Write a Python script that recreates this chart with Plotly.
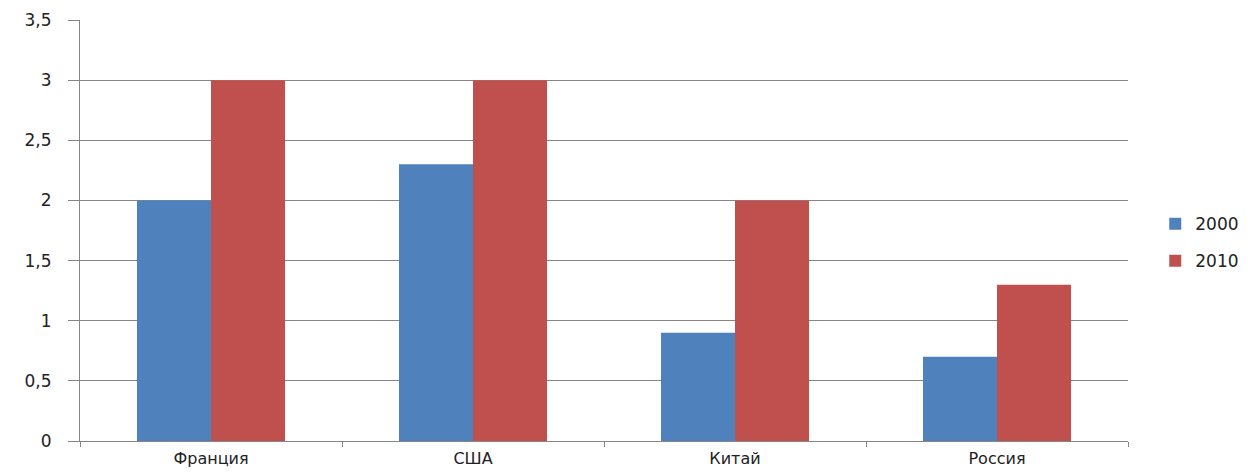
import plotly.graph_objects as go

categories = ["Франция", "США", "Китай", "Россия"]
series_2000 = [2.0, 2.3, 0.9, 0.7]
series_2010 = [3.0, 3.0, 2.0, 1.3]
y_ticks = [0, 0.5, 1, 1.5, 2, 2.5, 3, 3.5]

fig = go.Figure()
fig.add_trace(go.Bar(name="2000", x=categories, y=series_2000, legendgroup="a",
                     marker=dict(color="#4F81BD", line=dict(width=0))))
fig.add_trace(go.Bar(name="2010", x=categories, y=series_2010, legendgroup="b",
                     marker=dict(color="#C0504D", line=dict(width=0))))

font = "DejaVu Sans"
fig.update_layout(
    width=1254, height=472,
    margin=dict(l=80, r=126, t=20, b=31, autoexpand=False),
    paper_bgcolor="white", plot_bgcolor="white",
    barmode="group", bargap=0.435, bargroupgap=0,
    separators=", ",
    font=dict(family=font, size=17, color="#222222"),
    legend=dict(x=1.026, xanchor="left", y=0.471, yanchor="middle",
                font=dict(size=17, color="#222222"), itemwidth=30,
                tracegroupgap=12, bgcolor="rgba(0,0,0,0)"),
    showlegend=True,
)
fig.update_xaxes(
    showline=True, linecolor="#868686", linewidth=1,
    ticks="outside", tickson="boundaries", ticklen=5, tickcolor="#868686",
    showgrid=False, ticklabelstandoff=3, automargin=False,
    tickfont=dict(size=16),
)
fig.update_yaxes(
    range=[0, 3.5], tickvals=y_ticks,
    showline=True, linecolor="#868686", linewidth=1,
    ticks="outside", ticklen=11, tickcolor="#868686",
    showgrid=True, gridcolor="#868686", gridwidth=1,
    zeroline=False, ticklabelstandoff=13, automargin=False,
)
fig.write_html("out.html")
